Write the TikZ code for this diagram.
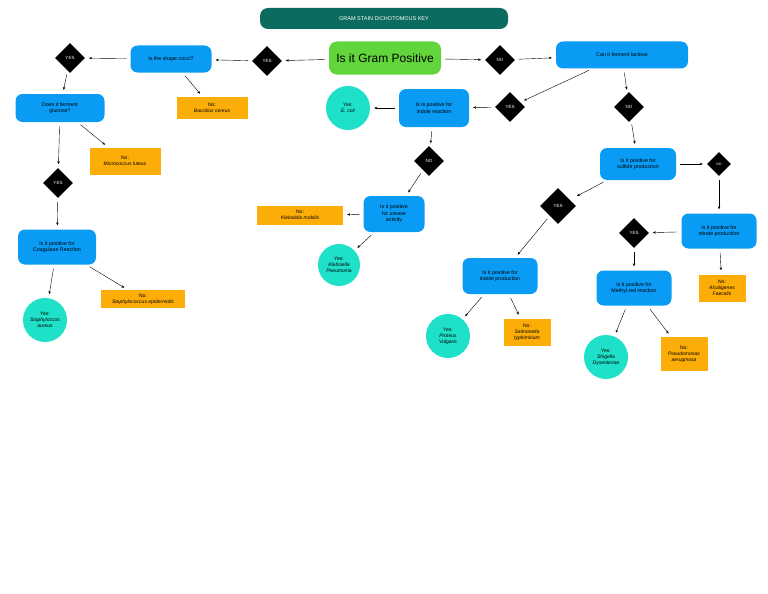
\documentclass[tikz,border=0pt]{standalone}
\usepackage{fontspec}
\setmainfont{Liberation Sans}
\usetikzlibrary{shapes.geometric,arrows.meta}
\definecolor{qblue}{HTML}{0A9CF5}
\definecolor{qorange}{HTML}{FDAD08}
\definecolor{qteal}{HTML}{1FE0C8}
\definecolor{qgreen}{HTML}{62D43C}
\definecolor{qdark}{HTML}{0B6B5E}
\tikzset{
 q/.style={fill=qblue,rounded corners=7pt,align=center,font=\fontsize{5.3}{6.6}\selectfont,inner sep=2pt},
 res/.style={fill=qorange,align=center,font=\fontsize{5}{6}\selectfont,inner sep=1pt},
 yes/.style={circle,fill=qteal,align=center,font=\fontsize{5}{6}\selectfont,minimum size=44pt,inner sep=0pt},
 dia/.style={diamond,fill=black,text=white,font=\fontsize{4.5}{5}\selectfont,minimum size=30pt,inner sep=0pt},
 sdia/.style={dia,minimum size=24pt,font=\fontsize{3.5}{4}\selectfont},
 ar/.style={-{Stealth[length=3pt,width=2.5pt]},thin,shorten >=4pt,shorten <=4pt}
}
\begin{document}
\begin{tikzpicture}[x=1pt,y=-1pt]
\useasboundingbox (0,0) rectangle (768,594);
\node[fill=qdark,text=white,rounded corners=8pt,minimum width=248pt,minimum height=21pt,font=\fontsize{5.5}{6}\selectfont] (title) at (384,18.5) {GRAM STAIN DICHOTOMOUS KEY};
\node[fill=qgreen,rounded corners=8pt,minimum width=112pt,minimum height=33pt,font=\fontsize{12}{14}\selectfont] (gram) at (385,58) {Is it Gram Positive};
\node[dia] (no1) at (500,60) {NO};
\node[q,minimum width=132pt,minimum height=27pt] (lac) at (622,55) {Can it ferment lactose};
\node[dia] (y1) at (267,61) {YES};
\node[q,minimum width=81pt,minimum height=27pt] (cocci) at (171,59) {Is the shape cocci?};
\node[dia] (y2) at (70,58) {YES};
\node[res,minimum width=71pt,minimum height=22pt] (bac) at (212,108) {No:\\\textit{Baccilius cereus}};
\node[q,minimum width=89pt,minimum height=28pt] (glu) at (60,108) {Does it ferment\\glucose?};
\node[res,minimum width=71pt,minimum height=27pt] (mic) at (125,161) {No:\\Micrococcus luteus};
\node[dia] (y3) at (58,183) {YES};
\node[q,minimum width=78pt,minimum height=35pt] (coag) at (57,247) {Is it positive for\\Coagulase Reaction};
\node[yes] (aur) at (45,320) {Yes:\\\textit{Staphyloccos}\\\textit{aureus}};
\node[res,minimum width=84pt,minimum height=18pt] (epi) at (143,299) {No:\\\textit{Staphylococcus epidermidis}};
\node[q,minimum width=70pt,minimum height=38pt] (ind) at (434,108) {Is is positive for\\indole reaction};
\node[yes] (eco) at (348,108) {Yes:\\\textit{E. coli}};
\node[dia] (y4) at (510,107) {YES};
\node[dia] (no2) at (629,107) {NO};
\node[dia] (no3) at (429,161) {NO};
\node[q,minimum width=61pt,minimum height=36pt] (ure) at (394,214) {Is it positive\\for urease\\activity};
\node[res,minimum width=86pt,minimum height=19pt] (mob) at (300,215) {No:\\\textit{Klebsiella mobilis}};
\node[yes,minimum size=42pt] (pne) at (339,265) {Yes:\\\textit{Klebsiella}\\\textit{Pneumonia}};
\node[q,minimum width=76pt,minimum height=32pt] (sul) at (638,164) {Is it positive for\\sulfide production};
\node[sdia] (no4) at (719,164) {NO};
\node[dia,minimum size=36pt] (y5) at (558,206) {YES};
\node[q,minimum width=75pt,minimum height=35pt] (nit) at (719,231) {Is it positive for\\nitrate production};
\node[dia] (y6) at (634,233) {YES};
\node[q,minimum width=75pt,minimum height=35pt] (mr) at (634,288) {Is it positive for\\Methyl red reaction};
\node[res,minimum width=47pt,minimum height=27pt] (alc) at (722,288) {No:\\\textit{Alcaligenes}\\\textit{Faecalis}};
\node[q,minimum width=75pt,minimum height=36pt] (ip) at (500,276) {Is it positive for\\indole production};
\node[yes] (pro) at (448,336) {Yes:\\\textit{Proteus}\\\textit{Vulgaris}};
\node[res,minimum width=47pt,minimum height=27pt] (sal) at (527,332) {No:\\\textit{Salmonella}\\\textit{typhimirium}};
\node[yes] (shi) at (606,357) {Yes:\\\textit{Shigella}\\\textit{Dysenteriae}};
\node[res,minimum width=47pt,minimum height=34pt] (pse) at (684,354) {No:\\\textit{Pseudomonas}\\\textit{aeruginosa}};
\draw[ar] (gram) -- (no1);
\draw[ar] (no1) -- (lac);
\draw[ar] (gram) -- (y1);
\draw[ar] (y1) -- (cocci);
\draw[ar] (cocci) -- (y2);
\draw[ar] (y2) -- (glu);
\draw[ar] (cocci) -- (bac);
\draw[ar] (glu) -- (mic);
\draw[ar] (glu) -- (y3);
\draw[ar] (y3) -- (coag);
\draw[ar] (coag) -- (aur);
\draw[ar] (coag) -- (epi);
\draw[ar] (lac) -- (y4);
\draw[ar] (y4) -- (ind);
\draw[ar] (ind) -- (eco);
\draw[ar] (ind) -- (no3);
\draw[ar] (no3) -- (ure);
\draw[ar] (ure) -- (mob);
\draw[ar] (ure) -- (pne);
\draw[ar] (lac) -- (no2);
\draw[ar] (no2) -- (sul);
\draw[ar] (sul) -- (no4);
\draw[ar] (no4) -- (nit);
\draw[ar,shorten >=8pt] (sul) -- (y5);
\draw[ar] (y5) -- (ip);
\draw[ar] (nit) -- (y6);
\draw[ar] (y6) -- (mr);
\draw[ar] (nit) -- (alc);
\draw[ar] (ip) -- (pro);
\draw[ar] (ip) -- (sal);
\draw[ar] (mr) -- (shi);
\draw[ar] (mr) -- (pse);
\end{tikzpicture}
\end{document}
